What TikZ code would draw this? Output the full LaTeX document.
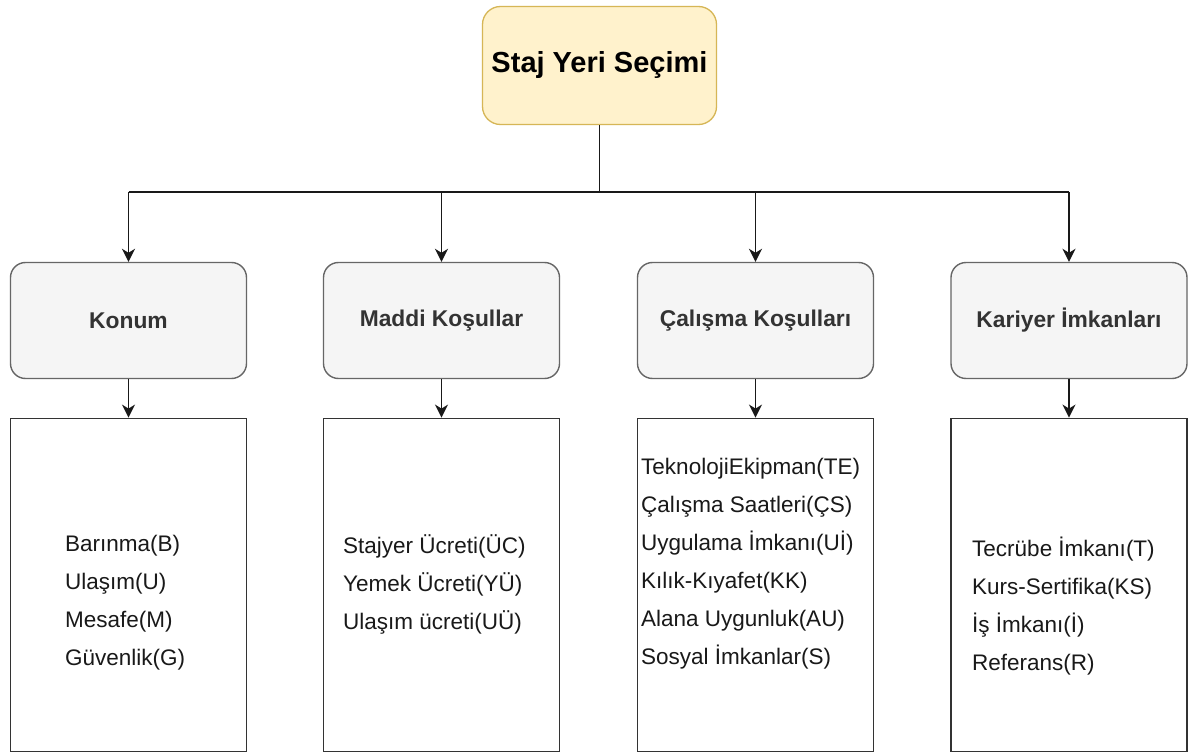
\documentclass[tikz,border=0pt]{standalone}
\usepackage{fontspec}
\setmainfont{Liberation Sans}
\usetikzlibrary{arrows.meta}
\definecolor{topfill}{HTML}{FFF2CC}
\definecolor{topline}{HTML}{D6B656}
\definecolor{catfill}{HTML}{F5F5F5}
\definecolor{catline}{HTML}{666666}
\definecolor{cattext}{HTML}{333333}
\begin{document}
\begin{tikzpicture}[x=1pt,y=-1pt,
  topbox/.style={draw=topline,fill=topfill,line width=1.3pt,rounded corners=18pt,
    minimum width=234pt,minimum height=118pt,inner sep=0pt,
    font=\fontsize{29}{34}\selectfont\bfseries},
  catbox/.style={draw=catline,fill=catfill,line width=1.4pt,rounded corners=15pt,
    minimum width=236pt,minimum height=116pt,inner sep=0pt,text=cattext,
    font=\fontsize{22.8}{26}\selectfont\bfseries},
  listbox/.style={draw=black!80,fill=white,line width=1.8pt,
    minimum width=236pt,minimum height=333pt,inner sep=0pt},
  items/.style={anchor=west,align=left,inner sep=0pt,text=black!90,
    font=\fontsize{22.5}{38}\selectfont},
  link/.style={line width=1.9pt,black!90},
  arr/.style={link,-{Stealth[length=13pt,width=13pt,inset=4pt]}}
]
\useasboundingbox (0,0) rectangle (1188,754);
\fill[white] (0,0) rectangle (1188,754);

\node[topbox] (root) at (599.5,65.5) {Staj Yeri Seçimi};

\node[catbox] (c1) at (128.5,320.5) {Konum};
\node[catbox] (c2) at (441.5,320.5) {Maddi Koşullar};
\node[catbox] (c3) at (755.5,320.5) {Çalışma Koşulları};
\node[catbox] (c4) at (1069,320.5) {Kariyer İmkanları};

\node[listbox] (l1) at (128.5,585) {};
\node[listbox] (l2) at (441.5,585) {};
\node[listbox] (l3) at (755.5,585) {};
\node[listbox] (l4) at (1069,585) {};

\node[items] (t1) at (65,603) {Barınma(B)\\Ulaşım(U)\\Mesafe(M)\\Güvenlik(G)};
\node[items] (t2) at (343,584) {Stajyer Ücreti(ÜC)\\Yemek Ücreti(YÜ)\\Ulaşım ücreti(UÜ)};
\node[items] (t3) at (641,564) {TeknolojiEkipman(TE)\\Çalışma Saatleri(ÇS)\\Uygulama İmkanı(Uİ)\\Kılık-Kıyafet(KK)\\Alana Uygunluk(AU)\\Sosyal İmkanlar(S)};
\node[items] (t4) at (972,606) {Tecrübe İmkanı(T)\\Kurs-Sertifika(KS)\\İş İmkanı(İ)\\Referans(R)};

\coordinate (j) at (599.5,192);
\draw[link] (root.south) -- (j);
\draw[link] (c1.north |- j) -- (c4.north |- j);
\foreach \c in {c1,c2,c3,c4} {
  \draw[arr] (\c.north |- j) -- (\c.north);
}
\foreach \c/\l in {c1/l1,c2/l2,c3/l3,c4/l4} {
  \draw[arr] (\c.south) -- (\l.north);
}
\end{tikzpicture}
\end{document}
